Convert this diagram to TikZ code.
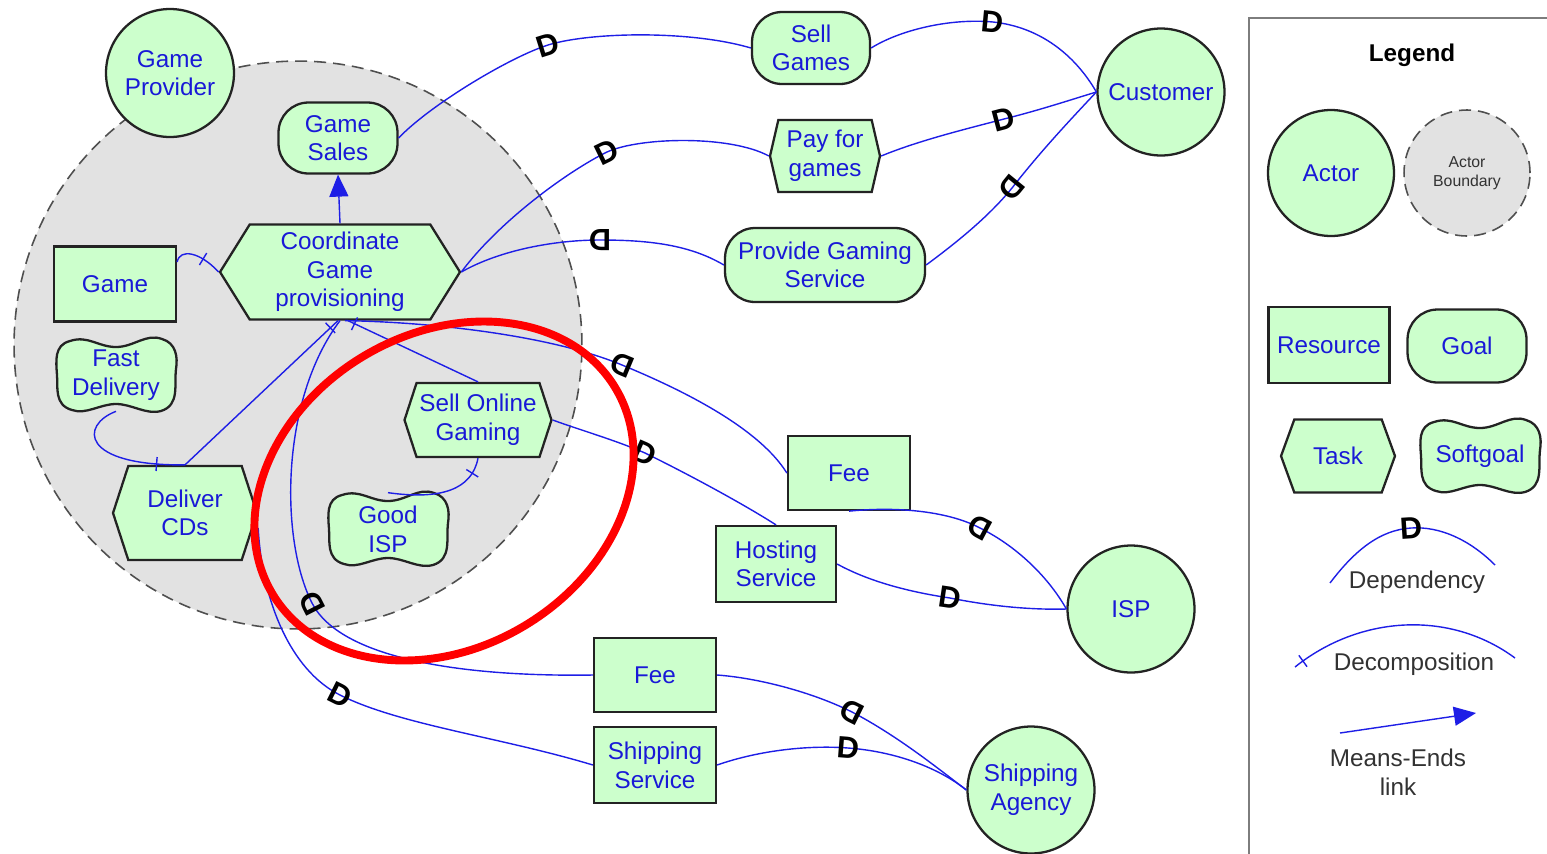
\documentclass[tikz,border=0pt]{standalone}
\usepackage{fontspec}
\setmainfont{Liberation Sans}
\usetikzlibrary{positioning,arrows.meta,shapes.symbols,calc}
\definecolor{linkblue}{RGB}{30,30,230}
\definecolor{labelblue}{RGB}{25,25,215}
\definecolor{elemfill}{RGB}{204,255,204}
\definecolor{boundfill}{RGB}{226,226,226}
\definecolor{edgegray}{RGB}{35,35,35}
\definecolor{legendgray}{RGB}{125,125,125}
\definecolor{legendtext}{RGB}{50,50,50}
\newcommand{\nodefont}{\fontsize{13.8}{16.3}\selectfont}
\newcommand{\dfont}{\fontsize{17.5}{17.5}\selectfont\bfseries}
\tikzset{
  elem/.style={
    draw=edgegray,
    fill=elemfill,
    line width=1.3pt,
    text=labelblue,
    font=\nodefont,
    align=center,
    inner sep=1pt
  },
  actor/.style={elem, circle, minimum size=2.54cm},
  goal/.style={elem, rectangle, rounded corners=0.6cm},
  resource/.style={elem, rectangle},
  task/.style={elem, signal, signal to=west and east},
  softgoal/.style={
    rectangle,
    text=labelblue,
    font=\nodefont,
    align=center,
    inner sep=1pt,
    minimum width=2.36cm,
    minimum height=1.44cm
  },
  sgline/.style={draw=edgegray, fill=elemfill, line width=1.3pt},
  boundary/.style={
    circle,
    draw=edgegray!80,
    fill=boundfill,
    line width=0.9pt,
    dash pattern=on 0.24cm off 0.14cm
  },
  link/.style={draw=linkblue, line width=0.8pt},
  dmark/.style={pos=1, sloped, font=\dfont, text=black, inner sep=0pt},
  dmark rev/.style={dmark, rotate=180},
  dtick/.style={
    sloped,
    draw=linkblue,
    line width=0.8pt,
    inner sep=0pt,
    minimum width=0pt,
    minimum height=0.28cm
  },
  meansend/.style={link, -{Triangle[length=0.44cm,width=0.38cm]}},
  highlight/.style={draw=red, line width=4.5pt},
  legendbox/.style={draw=legendgray, line width=1.2pt},
  legendlabel/.style={font=\nodefont, text=legendtext, align=center}
}
% softgoal: wavy outline drawn behind a named text node
\newcommand{\softgoal}[3]{%
  \begin{scope}[shift={(#2)}]
    \filldraw[sgline] (-46,-34) .. controls (-28,-40) and (-18,-28) .. (0,-28)
      .. controls (18,-28) and (30,-42) .. (46,-36)
      .. controls (60,-32) and (62,-18) .. (60,-6)
      .. controls (58,10) and (64,30) .. (45,36)
      .. controls (30,40) and (16,29) .. (0,29)
      .. controls (-16,29) and (-30,40) .. (-44,35)
      .. controls (-62,30) and (-58,12) .. (-59,0)
      .. controls (-60,-14) and (-62,-30) .. (-46,-34) -- cycle;
  \end{scope}
  \node[softgoal] (#1) at (#2) {#3};}

\begin{document}
\begin{tikzpicture}[x=0.02cm, y=-0.02cm]
  \useasboundingbox (0,0) rectangle (1547,853);

  % Game provider boundary
  \node[boundary, minimum size=11.36cm] (gpbound) at (298,345) {};
  \node[actor, minimum size=2.56cm] (gprov) at (170,73) {Game\\Provider};

  % Elements inside the boundary
  \node[goal, minimum width=2.38cm, minimum height=1.42cm] (gsales) at (338,138) {Game\\Sales};
  \node[task, minimum width=4.8cm, minimum height=1.9cm, signal pointer angle=116] (cgp) at (340,272) {Coordinate\\Game\\provisioning};
  \node[resource, minimum width=2.44cm, minimum height=1.5cm] (game) at (115,284) {Game};
  \softgoal{fdel}{116,375}{Fast\\Delivery}
  \node[task, minimum width=2.88cm, minimum height=1.88cm, signal pointer angle=144] (dcds) at (185,513) {Deliver\\CDs};
  \node[task, minimum width=2.94cm, minimum height=1.48cm, signal pointer angle=144] (sog) at (478,420) {Sell Online\\Gaming};
  \softgoal{gisp}{388,529}{Good\\ISP}

  % Dependums
  \node[goal, minimum width=2.36cm, minimum height=1.44cm] (sgames) at (811,48) {Sell\\Games};
  \node[task, minimum width=2.2cm, minimum height=1.44cm, signal pointer angle=154] (payg) at (825,156) {Pay for\\games};
  \node[goal, minimum width=4.0cm, minimum height=1.48cm] (pgs) at (825,265) {Provide Gaming\\Service};
  \node[resource, minimum width=2.44cm, minimum height=1.48cm] (feeisp) at (849,473) {Fee};
  \node[resource, minimum width=2.4cm, minimum height=1.52cm] (hosting) at (776,564) {Hosting\\Service};
  \node[resource, minimum width=2.44cm, minimum height=1.48cm] (feeship) at (655,675) {Fee};
  \node[resource, minimum width=2.44cm, minimum height=1.52cm] (shipsvc) at (655,765) {Shipping\\Service};

  % Other actors
  \node[actor] (cust) at (1161,92) {Customer};
  \node[actor] (isp) at (1131,609) {ISP};
  \node[actor] (shipag) at (1031,790) {Shipping\\Agency};

  % Means-ends and decompositions
  \draw[meansend] (cgp.north) -- (gsales.south);
  \draw[link] ([yshift=0.44cm]game.east) .. controls (180,248) and (200,252) .. (cgp.west)
    node[pos=0.72, dtick] {};
  \draw[link] (fdel.south) .. controls (80,425) and (80,466) .. (dcds.north)
    node[pos=0.9, dtick] {};
  \draw[link] (dcds.north) -- ([xshift=-0.04cm]cgp.south) node[pos=0.95, dtick] {};
  \draw[link] ([xshift=0.16cm]cgp.south) -- (sog.north) node[pos=0.05, dtick] {};
  \draw[link] (gisp.north) .. controls (440,500) and (472,490) .. (sog.south)
    node[pos=0.82, dtick] {};

  % Dependencies with the customer
  \draw[link] (gsales.east) .. controls (430,105) and (510,57) .. (548,45) node[dmark] {D}
    .. controls (590,32) and (690,30) .. (sgames.west);
  \draw[link] (sgames.east) .. controls (900,30) and (950,18) .. (993,22) node[dmark] {D}
    .. controls (1040,27) and (1075,55) .. (cust.west);
  \draw[link] (cgp.east) .. controls (500,220) and (570,170) .. (607,152) node[dmark] {D}
    .. controls (640,137) and (730,135) .. (payg.west);
  \draw[link] (payg.east) .. controls (920,140) and (970,128) .. (1004,119) node[dmark] {D}
    .. controls (1040,110) and (1070,100) .. (cust.west);
  \draw[link] (cgp.east) .. controls (500,250) and (555,240) .. (600,240) node[dmark rev] {D}
    .. controls (650,240) and (690,245) .. (pgs.west);
  \draw[link] (pgs.east) .. controls (960,240) and (990,215) .. (1012,188) node[dmark rev] {D}
    .. controls (1040,152) and (1070,120) .. (cust.west);

  % Dependencies with the ISP
  \draw[link] ([xshift=0.1cm]cgp.south) .. controls (430,322) and (550,335) .. (622,365) node[dmark rev] {D}
    .. controls (690,393) and (760,430) .. (feeisp.west);
  \draw[link] (feeisp.south) .. controls (900,506) and (950,512) .. (980,528) node[dmark rev] {D}
    .. controls (1020,548) and (1050,580) .. (isp.west);
  \draw[link] (sog.east) .. controls (580,430) and (615,440) .. (645,453) node[dmark] {D}
    .. controls (690,475) and (745,505) .. (hosting.north);
  \draw[link] (hosting.east) .. controls (870,582) and (910,592) .. (950,598) node[dmark] {D}
    .. controls (990,606) and (1030,610) .. (isp.west);

  % Dependencies with the shipping agency
  \draw[link] (cgp.south) .. controls (280,400) and (280,540) .. (312,603) node[dmark rev] {D}
    .. controls (340,658) and (460,677) .. (feeship.west);
  \draw[link] (feeship.east) .. controls (758,678) and (812,692) .. (852,712) node[dmark rev] {D}
    .. controls (898,736) and (940,770) .. (shipag.west);
  \draw[link] ([yshift=-0.3cm]dcds.east) .. controls (262,600) and (290,670) .. (340,695) node[dmark] {D}
    .. controls (400,725) and (500,737) .. (shipsvc.west);
  \draw[link] (shipsvc.east) .. controls (760,750) and (810,745) .. (848,748) node[dmark] {D}
    .. controls (890,751) and (935,765) .. (shipag.west);

  % Highlight
  \draw[highlight, rotate around={31:(444,491)}] (444,491) ellipse [x radius=200, y radius=157];

  % Legend
  \draw[legendbox] (1549,18) -- (1249,18) -- (1249,855);
  \node[font=\nodefont\bfseries] (lgtitle) at (1412,55) {Legend};
  \node[actor, minimum size=2.52cm] (lgactor) at (1331,173) {Actor};
  \node[boundary, minimum size=2.52cm, font=\fontsize{9}{10.5}\selectfont, text=legendtext, align=center] (lgbound) at (1467,173) {Actor\\Boundary};
  \node[resource, minimum width=2.42cm, minimum height=1.52cm] (lgres) at (1329,345) {Resource};
  \node[goal, minimum width=2.38cm, minimum height=1.46cm] (lggoal) at (1467,346) {Goal};
  \node[task, minimum width=2.28cm, minimum height=1.46cm, signal pointer angle=140] (lgtask) at (1338,456) {Task};
  \softgoal{lgsoft}{1480,456}{Softgoal}

  \coordinate (ldepa) at (1330,583);
  \coordinate (ldepb) at (1495,565);
  \draw[link] (ldepa) .. controls (1355,550) and (1380,530) .. (1411,528) node[dmark] {D}
    .. controls (1440,526) and (1470,540) .. (ldepb);
  \node[legendlabel] (lgdep) at (1417,582) {Dependency};

  \coordinate (ldeca) at (1295,667);
  \coordinate (ldecb) at (1515,658);
  \draw[link] (ldeca) .. controls (1360,615) and (1450,610) .. (ldecb) node[pos=0.04, dtick] {};
  \node[legendlabel] (lgdec) at (1414,664) {Decomposition};

  \coordinate (lmea) at (1340,733);
  \coordinate (lmeb) at (1476,713);
  \draw[meansend] (lmea) -- (lmeb);
  \node[legendlabel] (lgme) at (1398,772) {Means-Ends\\link};

\end{tikzpicture}
\end{document}
